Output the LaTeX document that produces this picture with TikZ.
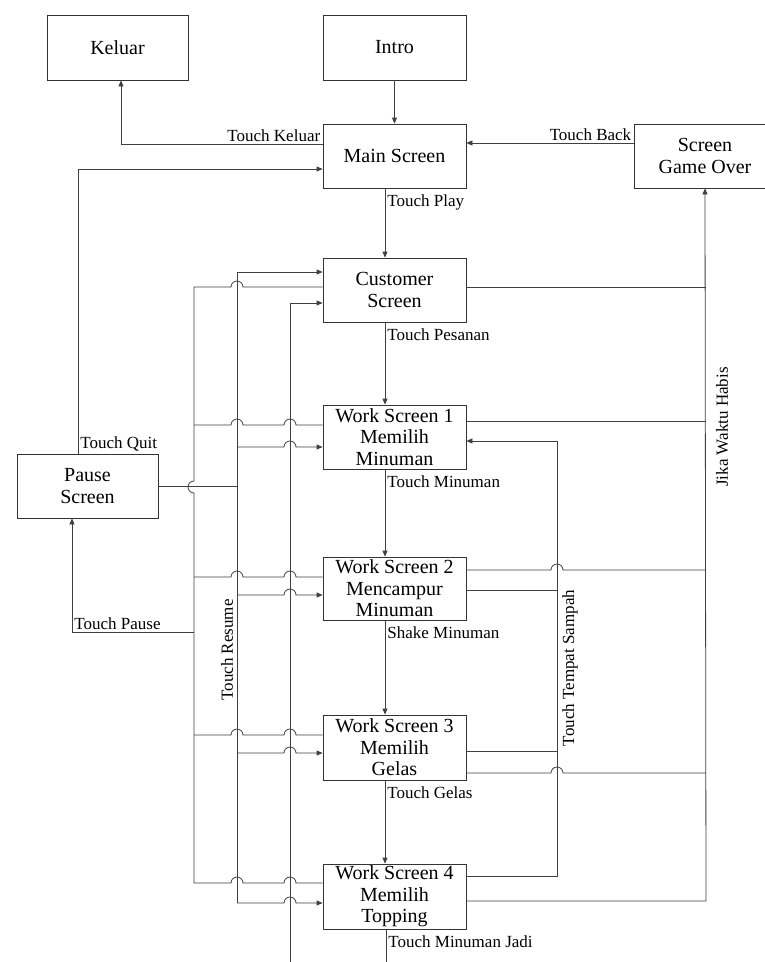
\documentclass[tikz,border=0pt]{standalone}
\usepackage{fontspec}
\setmainfont{Liberation Serif}
\usetikzlibrary{arrows.meta}
\begin{document}
\begin{tikzpicture}[x=1pt,y=-1pt,
  box/.style={draw=black!80, line width=0.8pt, minimum width=143pt, minimum height=64pt, align=center, inner sep=1pt, font=\fontsize{20}{21.5}\selectfont},
  lbl/.style={font=\fontsize{17}{19}\selectfont, inner sep=2pt},
  dlbl/.style={lbl, anchor=north west, yshift=-4pt},
  ln/.style={draw=black!75, line width=0.8pt},
  arr/.style={ln, -{Triangle[length=6pt,width=5pt]}},
]
\useasboundingbox (0,0) rectangle (765,962);
\clip (0,0) rectangle (765,962);
\fill[white] (0,0) rectangle (765,962);

% boxes
\node[box, minimum width=141pt, minimum height=65pt] (keluar) at (117.5,47.5) {Keluar};
\node[box, minimum height=65pt] (intro) at (394.5,47.5) {Intro};
\node[box] (main) at (394.5,156) {Main Screen};
\node[box, minimum width=142pt] (go) at (705,156) {Screen\\Game Over};
\node[box] (cust) at (394.5,290) {Customer\\Screen};
\node[box] (ws1) at (394.5,437) {Work Screen 1\\Memilih\\Minuman};
\node[box, minimum width=141pt] (pause) at (87.5,486) {Pause\\Screen};
\node[box, minimum height=63pt] (ws2) at (394.5,588.5) {Work Screen 2\\Mencampur\\Minuman};
\node[box, minimum height=65pt] (ws3) at (394.5,747.5) {Work Screen 3\\Memilih\\Gelas};
\node[box, minimum height=65pt] (ws4) at (394.5,896.5) {Work Screen 4\\Memilih\\Topping};

% top connectors
\draw[arr] (intro.south) -- (main.north);
\draw[arr] (main.west |- 0,144) node[lbl,anchor=south east]{Touch Keluar} -- (121,144) -- (keluar.south -| 121,0);
\draw[arr] (go.west |- 0,143) node[lbl,anchor=south east]{Touch Back} -- (main.east |- 0,143);
\draw[arr] (pause.north -| 78,0) node[lbl,anchor=south west]{Touch Quit} -- (78,169) -- (main.west |- 0,169);

% main chain
\draw[arr] (main.south -| 385,0) node[dlbl]{Touch Play} -- (cust.north -| 385,0);
\draw[arr] (cust.south -| 385,0) node[dlbl]{Touch Pesanan} -- (ws1.north -| 385,0);
\draw[arr] (ws1.south -| 385,0) node[dlbl]{Touch Minuman} -- (ws2.north -| 385,0);
\draw[arr] (ws2.south -| 385,0) node[dlbl]{Shake Minuman} -- (ws3.north -| 385,0);
\draw[arr] (ws3.south -| 385,0) node[dlbl]{Touch Gelas} -- (ws4.north -| 385,0);
\draw[ln] (ws4.south -| 386,0) node[dlbl]{Touch Minuman Jadi} -- (386,975);

% Touch Pause bus (x=194)
\draw[ln] (cust.west |- 0,287) -- (243,287) arc[start angle=0,end angle=180,radius=6pt] -- (194,287)
  -- (194,481) arc[start angle=90,end angle=270,radius=6pt] -- (194,883)
  -- (231,883) arc[start angle=180,end angle=0,radius=6pt] -- (284,883) arc[start angle=180,end angle=0,radius=6pt] -- (ws4.west |- 0,883);
\draw[ln] (ws1.west |- 0,425) -- (296,425) arc[start angle=0,end angle=180,radius=6pt] -- (243,425) arc[start angle=0,end angle=180,radius=6pt] -- (194,425);
\draw[ln] (ws2.west |- 0,577) -- (296,577) arc[start angle=0,end angle=180,radius=6pt] -- (243,577) arc[start angle=0,end angle=180,radius=6pt] -- (194,577);
\draw[ln] (ws3.west |- 0,735) -- (296,735) arc[start angle=0,end angle=180,radius=6pt] -- (243,735) arc[start angle=0,end angle=180,radius=6pt] -- (194,735);
\draw[arr] (194,632) -- (72,632) node[lbl,anchor=south west]{Touch Pause} -- (pause.south -| 72,0);

% Touch Resume bus (x=237)
\draw[ln] (pause.east) -- (237,486);
\draw[ln] (237,272) -- (237,903);
\draw[arr] (237,272) -- (cust.west |- 0,272);
\draw[arr] (237,447) -- (284,447) arc[start angle=180,end angle=0,radius=6pt] -- (ws1.west |- 0,447);
\draw[arr] (237,595) -- (284,595) arc[start angle=180,end angle=0,radius=6pt] -- (ws2.west |- 0,595);
\draw[arr] (237,753) -- (284,753) arc[start angle=180,end angle=0,radius=6pt] -- (ws3.west |- 0,753);
\draw[arr] (237,903) -- (284,903) arc[start angle=180,end angle=0,radius=6pt] -- (ws4.west |- 0,903);
\node[lbl, rotate=90] (resume) at (227,650) {Touch Resume};

% return line (x=290)
\draw[arr] (290,975) -- (290,303) -- (cust.west |- 0,303);

% Jika Waktu Habis (x=706)
\draw[ln] (cust.east |- 0,287) -- (706,287);
\draw[ln] (ws1.east |- 0,421) -- (706,421);
\draw[ln] (ws2.east |- 0,570) -- (551,570) arc[start angle=180,end angle=0,radius=6pt] -- (706,570);
\draw[ln] (ws3.east |- 0,773) -- (551,773) arc[start angle=180,end angle=0,radius=6pt] -- (706,773);
\draw[arr] (ws4.east |- 0,901) -- (706,901) -- (go.south);
\node[lbl, rotate=90] (habis) at (722,427) {Jika Waktu Habis};

% Touch Tempat Sampah (x=557)
\draw[arr] (ws4.east |- 0,876) -- (557,876) -- (557,441) -- (ws1.east |- 0,441);
\draw[ln] (ws2.east |- 0,590) -- (557,590);
\draw[ln] (ws3.east |- 0,751) -- (557,751);
\node[lbl, rotate=90] (sampah) at (570,668) {Touch Tempat Sampah};
\end{tikzpicture}
\end{document}
